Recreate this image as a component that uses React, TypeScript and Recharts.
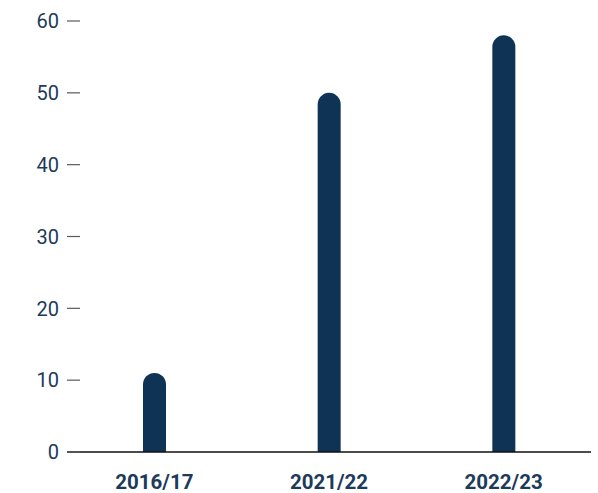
import { Bar, BarChart, XAxis, YAxis } from "recharts";

const years = ["2016/17", "2021/22", "2022/23"];
const values = [11, 50, 58];
const yTicks = [0, 10, 20, 30, 40, 50, 60];

const NAVY = "#0e3354";
const LABEL = "#1c3a5a";

const data = years.map((year, i) => ({ year, value: values[i] }));

function YTick(props: any) {
  const { x, y, payload } = props;
  return (
    <g>
      <line x1={x + 8} x2={x + 21} y1={y} y2={y} stroke="#5a5a5a" strokeWidth={1.2} />
      <text x={x} y={y} dy="0.36em" textAnchor="end" fill={LABEL} fontSize={20} fontFamily="Roboto">
        {payload.value}
      </text>
    </g>
  );
}

export default function App() {
  return (
    <div style={{ position: "absolute", left: 0, top: 0, background: "#fff" }}>
      <BarChart width={598} height={493} data={data} margin={{ top: 21, right: 7, bottom: 0, left: 0 }}>
        <XAxis
          dataKey="year"
          height={41}
          axisLine={{ stroke: "#111", strokeWidth: 1.3 }}
          tickLine={false}
          tickMargin={16}
          tick={{ fill: LABEL, fontSize: 20.5, fontWeight: 700, fontFamily: "Roboto" }}
        />
        <YAxis
          width={67}
          domain={[0, 60]}
          ticks={yTicks}
          axisLine={false}
          tickLine={false}
          tick={<YTick />}
        />
        <Bar dataKey="value" fill={NAVY} barSize={23} radius={[12, 12, 0, 0]} isAnimationActive={false} />
      </BarChart>
    </div>
  );
}
